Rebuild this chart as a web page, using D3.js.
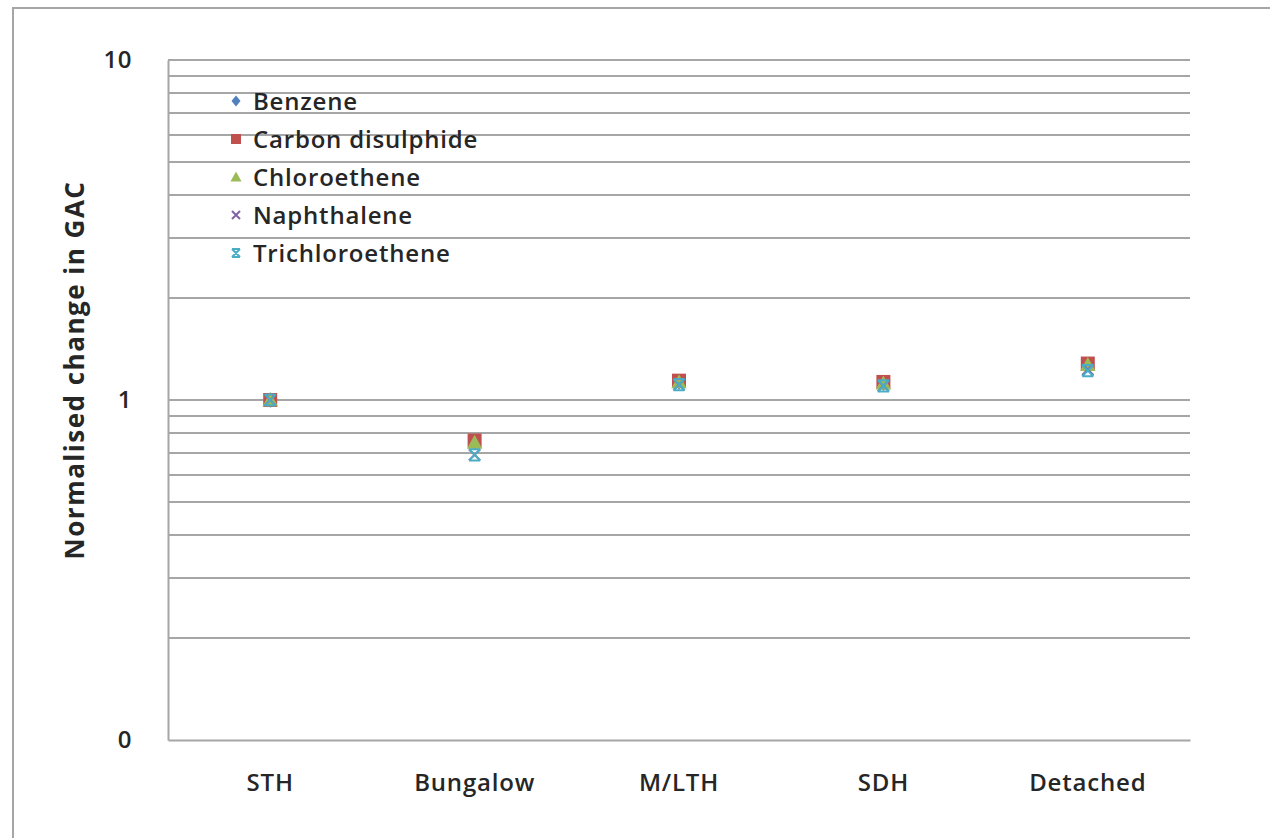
<!DOCTYPE html>
<html><head><meta charset="utf-8">
<script src="https://cdn.jsdelivr.net/npm/d3@7"></script>
<style>body{margin:0;background:#fff;} svg{display:block;}</style>
</head><body>
<svg id="c" width="1270" height="838"></svg>
<script>
const categories = ["STH","Bungalow","M/LTH","SDH","Detached"];
const seriesNames = ["Benzene","Carbon disulphide","Chloroethene","Naphthalene","Trichloroethene"];
const benzene = [1.0, 0.75, 1.13, 1.12, 1.27];
const carbonDisulphide = [1.0, 0.76, 1.14, 1.13, 1.28];
const chloroethene = [1.0, 0.75, 1.13, 1.12, 1.27];
const naphthalene = [1.0, 0.69, 1.11, 1.10, 1.23];
const trichloroethene = [1.0, 0.69, 1.11, 1.10, 1.22];
const yTickValues = [0.1, 1, 10];
const yTickLabels = ["0", "1", "10"];
const gridValues = [0.2,0.3,0.4,0.5,0.6,0.7,0.8,0.9,1,2,3,4,5,6,7,8,9,10];

const seriesData = [benzene, carbonDisulphide, chloroethene, naphthalene, trichloroethene];
const colors = ["#4F81BD","#C0504D","#9BBB59","#8064A2","#4BACC6"];
const shapes = ["diamond","square","triangle","x","star"];

const svg = d3.select("#c");
const L = 168, R = 1190, T = 60, B = 740;
const font = "'Open Sans', sans-serif";
const txt = "#262626";

// outer frame
svg.append("path").attr("d", "M13,845 L13,8 L1280,8")
  .attr("fill","none").attr("stroke","#a6a6a6").attr("stroke-width",2);

const x = d3.scaleBand().domain(categories).range([L, R]);
const y = d3.scaleLog().domain([0.1, 10]).range([B, T]);

// gridlines
svg.append("g").selectAll("line").data(gridValues).join("line")
  .attr("x1", L).attr("x2", R)
  .attr("y1", d => Math.round(y(d))).attr("y2", d => Math.round(y(d)))
  .attr("stroke", "#a6a6a6").attr("stroke-width", 1.8);

// axes
const yAxis = d3.axisLeft(y).tickValues(yTickValues)
  .tickFormat((d,i) => yTickLabels[i]).tickSize(0).tickPadding(36);
const gy = svg.append("g").attr("transform", `translate(${L},0)`).call(yAxis);
gy.select(".domain").attr("stroke","#a6a6a6").attr("stroke-width",2);
gy.selectAll("text").attr("font-family", font).attr("font-size", 24).attr("font-weight", 600)
  .attr("letter-spacing", 0.5).attr("fill", txt);

const xAxis = d3.axisBottom(x).tickSize(0).tickPadding(34);
const gx = svg.append("g").attr("transform", `translate(0,${B})`).call(xAxis);
gx.select(".domain").attr("stroke","#a6a6a6").attr("stroke-width",2);
gx.selectAll("text").attr("font-family", font).attr("font-size", 24).attr("font-weight", 600)
  .attr("letter-spacing", 0.8).attr("fill", txt);

// axis title
svg.append("text").attr("transform", `translate(84,370) rotate(-90)`)
  .attr("text-anchor","middle").attr("font-family", font).attr("font-weight","bold")
  .attr("font-size", 26).attr("letter-spacing", 1.5).attr("fill", txt).text("Normalised change in GAC");

function marker(g, shape, color, s) {
  if (shape === "diamond") {
    g.append("path").attr("d", `M0,${-s*0.55}L${s*0.45},0L0,${s*0.55}L${-s*0.45},0Z`).attr("fill", color);
  } else if (shape === "square") {
    g.append("rect").attr("x",-s/2).attr("y",-s/2).attr("width",s).attr("height",s).attr("fill",color);
  } else if (shape === "triangle") {
    g.append("path").attr("d", `M0,${-s*0.55}L${s*0.55},${s*0.45}L${-s*0.55},${s*0.45}Z`).attr("fill", color);
  } else if (shape === "x") {
    const a = s*0.4;
    g.append("path").attr("d", `M${-a},${-a}L${a},${a}M${a},${-a}L${-a},${a}`)
      .attr("stroke", color).attr("stroke-width", 2).attr("fill","none");
  } else {
    const a = s*0.4;
    g.append("path").attr("d", `M${-a},${-a}L${a},${a}M${a},${-a}L${-a},${a}M${-a},${-a}L${a},${-a}M${-a},${a}L${a},${a}`)
      .attr("stroke", color).attr("stroke-width", 2).attr("fill","none");
  }
}

// points
seriesData.forEach((vals, si) => {
  const g = svg.append("g");
  vals.forEach((v, i) => {
    const m = g.append("g").attr("transform", `translate(${x(categories[i]) + x.bandwidth()/2},${y(v)})`);
    marker(m, shapes[si], colors[si], 14);
  });
});

// legend
const leg = svg.append("g");
seriesNames.forEach((n, i) => {
  const yy = 101 + i*38;
  const m = leg.append("g").attr("transform", `translate(236,${yy})`);
  marker(m, shapes[i], colors[i], 10);
  leg.append("text").attr("x", 253).attr("y", yy).attr("dy","0.36em")
    .attr("font-family", font).attr("font-size", 24).attr("font-weight", 600)
    .attr("letter-spacing", 0.8).attr("fill", txt).text(n);
});
</script>
</body></html>
